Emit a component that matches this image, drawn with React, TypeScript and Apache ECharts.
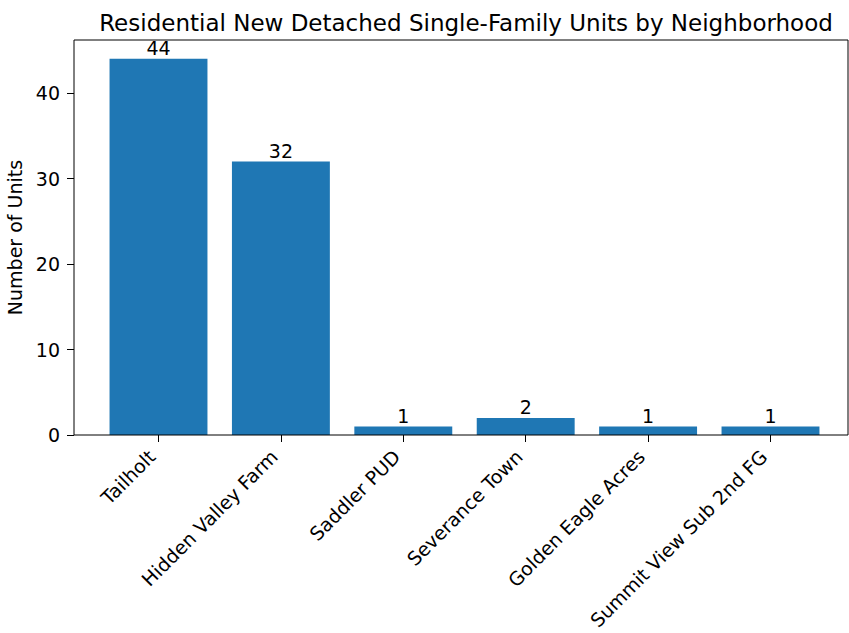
import React, { useEffect, useRef } from "react";
import * as echarts from "echarts";

const categories = [
  "Tailholt",
  "Hidden Valley Farm",
  "Saddler PUD",
  "Severance Town",
  "Golden Eagle Acres",
  "Summit View Sub 2nd FG",
];
const units = [44, 32, 1, 2, 1, 1];
const yTicks = [0, 10, 20, 30, 40];
const yMax = 46.2;

const FONT = "DejaVu Sans";
const TICK_FS = 19;

export default function App() {
  const ref = useRef<HTMLDivElement>(null);
  useEffect(() => {
    if (!ref.current) return;
    const chart = echarts.init(ref.current, undefined, { renderer: "svg" });
    const plotLeft = 74;
    const plotTop = 40;
    const plotW = 774;
    const plotH = 395;
    const firstTick = 158.5;
    const step = 122.4;
    const barLeft = firstTick - step / 2;
    const barW = step * categories.length;
    chart.setOption({
      animation: false,
      backgroundColor: "#ffffff",
      title: {
        text: "Residential New Detached Single-Family Units by Neighborhood",
        left: 461,
        textAlign: "center",
        top: 6,
        textStyle: { fontFamily: FONT, fontSize: 23, fontWeight: "normal", color: "#000" },
      },
      grid: [
        {
          left: barLeft,
          top: plotTop,
          width: barW,
          height: plotH,
          containLabel: false,
          outerBoundsMode: "none",
        },
        {
          left: plotLeft,
          top: plotTop,
          width: plotW,
          height: plotH,
          show: true,
          borderColor: "#000",
          borderWidth: 1,
          backgroundColor: "transparent",
          z: 10,
          outerBoundsMode: "none",
        },
      ],
      xAxis: [
        {
          type: "category",
          gridIndex: 0,
          data: categories,
          boundaryGap: true,
          axisLine: { show: false },
          axisTick: { show: true, alignWithLabel: true, length: 7, lineStyle: { color: "#000" } },
          axisLabel: {
            rotate: 45,
            interval: 0,
            margin: 25,
            verticalAlign: "bottom",
            fontFamily: FONT,
            fontSize: TICK_FS,
            color: "#000",
          },
        },
        { type: "value", gridIndex: 1, show: false },
      ],
      yAxis: [
        {
          type: "value",
          gridIndex: 0,
          min: 0,
          max: yMax,
          offset: barLeft - plotLeft,
          name: "Number of Units",
          nameLocation: "middle",
          nameRotate: 90,
          nameGap: 48,
          nameTextStyle: { fontFamily: FONT, fontSize: TICK_FS, color: "#000" },
          axisLine: { show: false },
          splitLine: { show: false },
          axisTick: { show: true, length: 7, lineStyle: { color: "#000" }, customValues: yTicks },
          axisLabel: {
            fontFamily: FONT,
            fontSize: TICK_FS,
            color: "#000",
            margin: 14,
            customValues: yTicks,
          },
        },
        { type: "value", gridIndex: 1, show: false },
      ],
      series: [
        {
          type: "bar",
          xAxisIndex: 0,
          yAxisIndex: 0,
          data: units,
          barCategoryGap: "20%",
          itemStyle: { color: "#1f77b4" },
          label: {
            show: true,
            position: "top",
            distance: 1,
            fontFamily: FONT,
            fontSize: TICK_FS,
            color: "#000",
          },
        },
      ],
    });
    return () => chart.dispose();
  }, []);
  return (
    <div
      ref={ref}
      style={{ position: "absolute", left: 0, top: 0, width: 849, height: 633 }}
    />
  );
}
